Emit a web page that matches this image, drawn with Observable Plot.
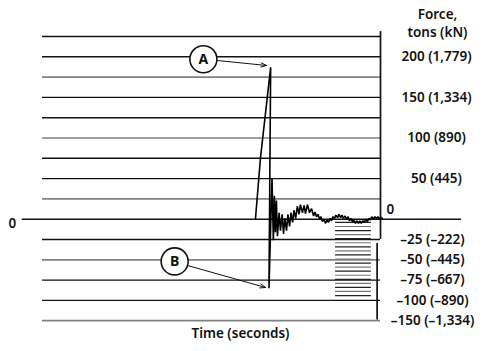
<!DOCTYPE html>
<html>
<head>
<meta charset="utf-8">
<script src="https://cdn.jsdelivr.net/npm/d3@7"></script>
<script src="https://cdn.jsdelivr.net/npm/@observablehq/plot@0.6"></script>
<style>
  html, body { margin: 0; padding: 0; background: #fff; }
  #chart svg { display: block; }
</style>
</head>
<body>
<div id="chart"></div>
<script>
// Force values (tons) of the horizontal grid lines
const gridForce = [225, 200, 175, 150, 125, 100, 75, 50, 25, -25, -50, -75, -100, -125];
const grayGridForce = [175, 100, 25, -50, -125];

// Right-hand tick labels: tons (kN)
const posTickForce = [200, 150, 100, 50];
const posTickLabels = ["200 (1,779)", "150 (1,334)", "100 (890)", "50 (445)"];
const negTickForce = [-25, -50, -75, -100, -125];
const negTickLabels = ["\u201325 (\u2013222)", "\u201350 (\u2013445)", "\u201375 (\u2013667)", "\u2013100 (\u2013890)", "\u2013150 (\u20131,334)"];

// Force trace: time (arbitrary units) and force (tons)
const traceTime = [63.0, 64.5, 67.5, 67.0, 67.9, 68.3, 68.6, 68.9, 69.2, 69.5, 70.0, 70.4, 70.9, 71.3, 71.7, 72.2, 72.6, 73.1, 73.5, 74.0, 74.4, 74.9, 75.4, 75.9, 76.3, 76.9, 77.4, 77.8, 78.4, 79.0, 79.6,
  80.2, 80.6, 81.1, 81.5, 82.0, 82.4, 82.8, 83.3, 83.7, 84.2, 84.6, 85.1, 85.5, 85.9, 86.4, 86.8, 87.3, 87.7, 88.2, 88.6, 89.0, 89.5, 89.9, 90.4, 90.8, 91.2, 91.7, 92.1, 92.6, 93.0, 93.5, 93.9, 94.3, 94.8, 95.2, 95.7, 96.1, 96.6, 97.0, 97.4, 97.9, 98.3, 98.8, 99.2, 99.7, 100.1, 100.6];
const traceForce = [0, 76, 187, -85, 50, -26, 29, -16, 23, -21, 8, -14, 6, -18, 1, -14, 6, -9, 8, -4, 11, 1, 16, 6, 18, 8, 17, 7, 18, 8, 13,
  4, 9, 3, 6, 0, 3, -3, 0, -5, -1, -4, 1, -2, 3, 1, 5, 2, 6, 2, 5, 1, 4, 0, 3, -2, 1, -3, -1, -5, -2, -5, -2, -5, -2, -4, 0, -3, 1, -1, 3, 0, 3, 1, 3, 0, 2, 1];

// Zero axis extent (time)
const zeroLineTime = [-6, 124];
// Time extent of grid
const gridTime = [0, 100];
// Right boundary segments: time, force start, force end
const boundaryTime = [100, 99];
const boundaryFrom = [231, -30];
const boundaryTo = [-25, -124];

// Hatched block
const hatchTime = [86.7, 97.3];
const hatchForce = [-4, -9, -14, -19, -24, -29, -34, -39, -44, -49, -54, -59, -64, -69, -74, -79, -84, -89, -94];

// Callouts
const calloutLabels = ["A", "B"];
const calloutTime = [47.6, 39.1];
const calloutForce = [197, -52];
const arrowFromTime = [51.8, 42.9];
const arrowFromForce = [195.4, -57];
const arrowToTime = [66.3, 66.0];
const arrowToForce = [189.3, -84.1];

const trace = traceTime.map((t, i) => ({t, f: traceForce[i]}));
const callouts = calloutLabels.map((label, i) => ({
  label, t: calloutTime[i], f: calloutForce[i],
  t1: arrowFromTime[i], f1: arrowFromForce[i], t2: arrowToTime[i], f2: arrowToForce[i]
}));
const boundary = boundaryTime.map((t, i) => ({t, f1: boundaryFrom[i], f2: boundaryTo[i]}));
const posTicks = posTickForce.map((f, i) => ({f, label: posTickLabels[i]}));
const negTicks = negTickForce.map((f, i) => ({f, label: negTickLabels[i]}));

const FONT = "'Noto Sans', sans-serif";

const chart = Plot.plot({
  width: 484,
  height: 351,
  marginTop: 0, marginBottom: 0, marginLeft: 0, marginRight: 0,
  style: {fontFamily: FONT, fontSize: "13.5px", fontWeight: 600, color: "#111", background: "#fff"},
  x: {domain: [-12.43, 130.77], axis: null},
  y: {domain: [-162.93, 269.33], axis: null},
  marks: [
    Plot.ruleY(gridForce, {
      x1: gridTime[0], x2: gridTime[1],
      stroke: d => grayGridForce.includes(d) ? "#808080" : "#111",
      strokeWidth: d => grayGridForce.includes(d) ? 1.7 : 1.4
    }),
    Plot.ruleY(hatchForce, {x1: hatchTime[0], x2: hatchTime[1], stroke: (d, i) => i % 2 ? "#777" : "#222", strokeWidth: 1.2}),
    Plot.ruleY([0], {x1: zeroLineTime[0], x2: zeroLineTime[1], stroke: "#111", strokeWidth: 1.5}),
    Plot.ruleX(boundary, {x: "t", y1: "f1", y2: "f2", stroke: "#111", strokeWidth: 1.7}),
    Plot.line(trace, {x: "t", y: "f", stroke: "#000", strokeWidth: 1.6, strokeLinejoin: "miter"}),
    Plot.arrow(callouts, {x1: "t1", y1: "f1", x2: "t2", y2: "f2", stroke: "#111", strokeWidth: 1, headLength: 9, headAngle: 40}),
    Plot.dot(callouts, {x: "t", y: "f", r: 13.5, fill: "#fff", stroke: "#111", strokeWidth: 1.6}),
    Plot.text(callouts, {x: "t", y: "f", text: "label", fontSize: 14, fontWeight: 700, fill: "#111"}),
    Plot.text(posTicks, {frameAnchor: "right", y: "f", text: "label", textAnchor: "middle", dx: -48, fill: "#111"}),
    Plot.text(negTicks, {frameAnchor: "right", y: "f", text: "label", textAnchor: "middle", dx: -52, fill: "#111"}),
    Plot.text(["0"], {frameAnchor: "right", y: 0, textAnchor: "start", dx: -98, dy: -10, fill: "#111"}),
    Plot.text(["0"], {frameAnchor: "left", y: 0, textAnchor: "start", dx: 8, dy: 4, fill: "#111"}),
    Plot.text(["Force,\ntons (kN)"], {frameAnchor: "top-right", textAnchor: "middle", lineAnchor: "top", dx: -47, dy: 6, lineHeight: 1.33, fill: "#111"}),
    Plot.text(["Time (seconds)"], {frameAnchor: "bottom", lineAnchor: "middle", dx: -2, dy: -18, fill: "#111"})
  ]
});
document.getElementById("chart").appendChild(chart);
</script>
</body>
</html>
